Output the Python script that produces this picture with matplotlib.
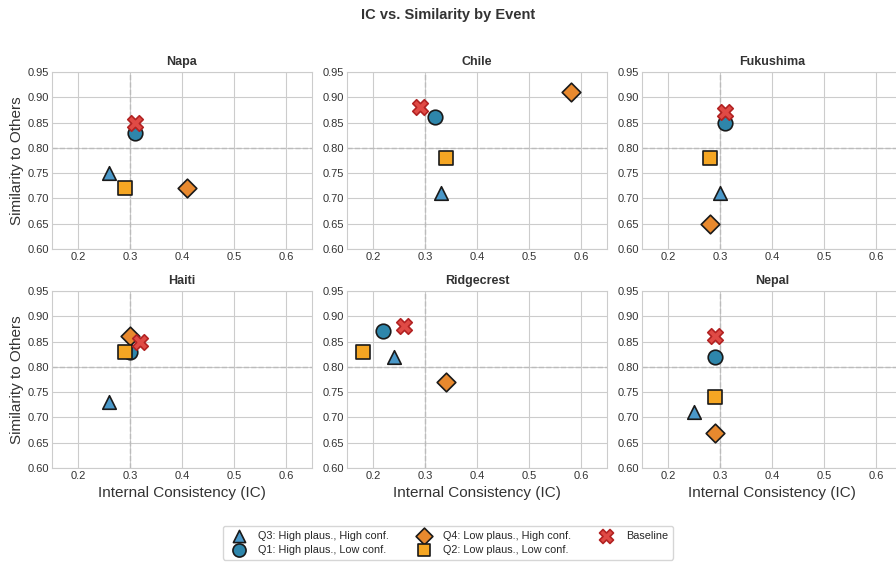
import matplotlib
matplotlib.use("Agg")
import matplotlib.pyplot as plt
import seaborn as sns

# ── Data ──────────────────────────────────────────────────────────────────────
EVENTS = ["Napa", "Chile", "Fukushima", "Haiti", "Ridgecrest", "Nepal"]

# (IC, similarity) per event, per quadrant
Q3_IC  = [0.26, 0.33, 0.30, 0.26, 0.24, 0.25]
Q3_SIM = [0.75, 0.71, 0.71, 0.73, 0.82, 0.71]
Q1_IC  = [0.31, 0.32, 0.31, 0.30, 0.22, 0.29]
Q1_SIM = [0.83, 0.86, 0.85, 0.83, 0.87, 0.82]
Q4_IC  = [0.41, 0.58, 0.28, 0.30, 0.34, 0.29]
Q4_SIM = [0.72, 0.91, 0.65, 0.86, 0.77, 0.67]
Q2_IC  = [0.29, 0.34, 0.28, 0.29, 0.18, 0.29]
Q2_SIM = [0.72, 0.78, 0.78, 0.83, 0.83, 0.74]
BL_IC  = [0.31, 0.29, 0.31, 0.32, 0.26, 0.29]
BL_SIM = [0.85, 0.88, 0.87, 0.85, 0.88, 0.86]

IC_THRESH = 0.3
SIM_THRESH = 0.8

SERIES = [
    ("Q3: High plaus., High conf.", Q3_IC, Q3_SIM, "^", "#4A98C9", "#1a1a1a", 95),
    ("Q1: High plaus., Low conf.",  Q1_IC, Q1_SIM, "o", "#2E86AB", "#1a1a1a", 110),
    ("Q4: Low plaus., High conf.",  Q4_IC, Q4_SIM, "D", "#E8892E", "#1a1a1a", 90),
    ("Q2: Low plaus., Low conf.",   Q2_IC, Q2_SIM, "s", "#F5A623", "#1a1a1a", 95),
    ("Baseline",                    BL_IC, BL_SIM, "X", "#E04A45", "#B22222", 125),
]

sns.set_style("whitegrid")
plt.rcParams["font.family"] = ["Liberation Sans", "DejaVu Sans"]

fig = plt.figure(figsize=(8.96, 5.65), dpi=100)

lefts = [0.058, 0.3873, 0.7165]
bottoms = [0.5593, 0.1717]
W, H = 0.2902, 0.3133

handles = []
for i, ev in enumerate(EVENTS):
    r, c = divmod(i, 3)
    ax = fig.add_axes([lefts[c], bottoms[r], W, H])
    ax.axvline(IC_THRESH, color="#bbbbbb", ls="--", lw=1.0, zorder=1)
    ax.axhline(SIM_THRESH, color="#bbbbbb", ls="--", lw=1.0, zorder=1)
    for label, xs, ys, m, fc, ec, s in SERIES:
        h = ax.scatter(xs[i], ys[i], marker=m, s=s, facecolor=fc,
                       edgecolor=ec, linewidth=1.2, zorder=3, label=label)
        if i == 0:
            handles.append(h)
    ax.set_xlim(0.15, 0.65)
    ax.set_ylim(0.60, 0.95)
    ax.set_xticks([0.2, 0.3, 0.4, 0.5, 0.6])
    ax.set_yticks([0.60, 0.65, 0.70, 0.75, 0.80, 0.85, 0.90, 0.95])
    ax.set_yticklabels([f"{v:.2f}" for v in ax.get_yticks()])
    ax.tick_params(labelsize=8, colors="#333333", length=0, pad=2)
    for sp in ax.spines.values():
        sp.set_color("#cccccc")
    ax.set_title(ev, fontsize=9, fontweight="bold", color="#333333", pad=5)
    if c == 0:
        ax.set_ylabel("Similarity to Others", fontsize=11, color="#333333",
                      labelpad=3)
    if r == 1:
        ax.set_xlabel("Internal Consistency (IC)", fontsize=11, color="#333333",
                      labelpad=4)

fig.suptitle("IC vs. Similarity by Event", fontsize=10.5, fontweight="bold",
             color="#333333", y=0.985)

leg = fig.legend(handles=handles, loc="lower center", ncol=3,
                 bbox_to_anchor=(0.5, 0.0), fontsize=7.8, frameon=True,
                 columnspacing=2.2, handletextpad=0.8, borderpad=0.45,
                 labelspacing=0.35, markerscale=0.9)
leg.get_frame().set_edgecolor("#cccccc")

fig.savefig("out.png", dpi=100)
